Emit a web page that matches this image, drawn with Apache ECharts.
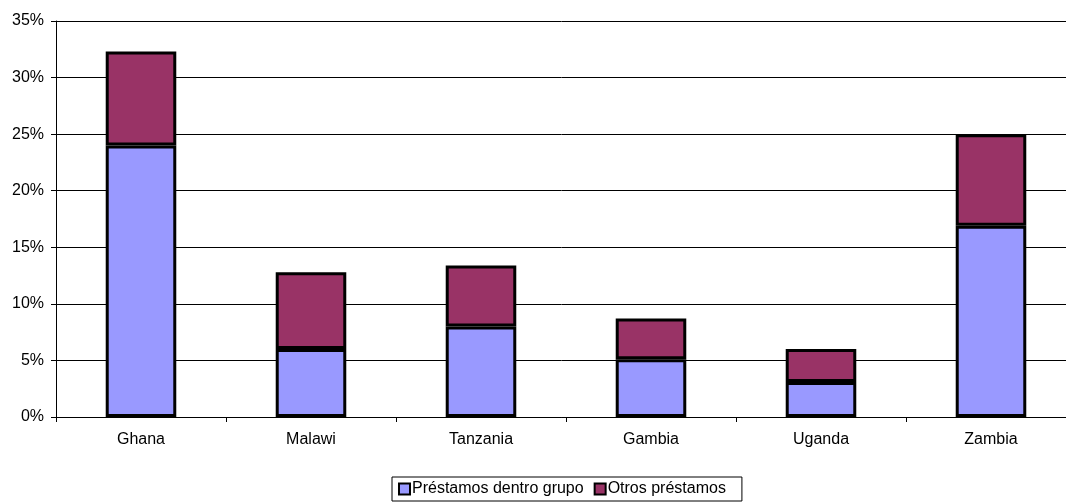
<!DOCTYPE html>
<html>
<head>
<meta charset="utf-8">
<script src="https://cdn.jsdelivr.net/npm/echarts@6/dist/echarts.min.js"></script>
<style>
  html, body { margin: 0; padding: 0; background: #fff; }
  #chart { width: 1066px; height: 503px; }
</style>
</head>
<body>
<div id="chart"></div>
<script>
// Loan shares by country (percent)
const countries = ['Ghana', 'Malawi', 'Tanzania', 'Gambia', 'Uganda', 'Zambia'];
const dentroGrupo = [24.0, 6.0, 8.0, 5.1, 3.1, 16.9];
const otrosPrestamos = [8.3, 6.8, 5.4, 3.6, 2.9, 8.1];
const yTicks = [0, 5, 10, 15, 20, 25, 30, 35];

const chart = echarts.init(document.getElementById('chart'));
const font = 'Liberation Sans, Arial, sans-serif';

chart.setOption({
  animation: false,
  textStyle: { fontFamily: font },
  // plot area runs slightly past the right edge of the canvas
  grid: { left: 56, width: 1020, top: 21, bottom: 86, outerBoundsMode: 'none', containLabel: false },
  legend: {
    top: 477,
    left: 392,
    itemWidth: 11,
    itemHeight: 11,
    itemGap: 10,
    icon: 'rect',
    borderColor: '#000',
    borderWidth: 1,
    padding: [4, 16, 4, 6],
    textStyle: { fontFamily: font, fontSize: 16, color: '#000', padding: [0, 0, 0, -3] },
    data: ['Préstamos dentro grupo', 'Otros préstamos']
  },
  xAxis: {
    type: 'category',
    data: countries,
    axisLine: { lineStyle: { color: '#000', width: 1 } },
    axisTick: { show: true, length: 5, lineStyle: { color: '#000' } },
    axisLabel: { color: '#000', fontSize: 16, margin: 15, fontFamily: font }
  },
  yAxis: {
    type: 'value',
    min: yTicks[0],
    max: yTicks[yTicks.length - 1],
    interval: 5,
    axisLine: { show: true, lineStyle: { color: '#000', width: 1 } },
    axisTick: { show: true, length: 5, lineStyle: { color: '#000' } },
    axisLabel: { color: '#000', fontSize: 16, margin: 12, fontFamily: font, formatter: '{value}%' },
    splitLine: { show: true, lineStyle: { color: '#000', width: 1 } }
  },
  series: [
    {
      name: 'Préstamos dentro grupo',
      type: 'bar',
      stack: 'total',
      barWidth: '41.5%',
      data: dentroGrupo,
      itemStyle: { color: '#9999FF', borderColor: '#000', borderWidth: 3 }
    },
    {
      name: 'Otros préstamos',
      type: 'bar',
      stack: 'total',
      barWidth: '41.5%',
      data: otrosPrestamos,
      itemStyle: { color: '#993366', borderColor: '#000', borderWidth: 3 }
    }
  ]
});
</script>
</body>
</html>
